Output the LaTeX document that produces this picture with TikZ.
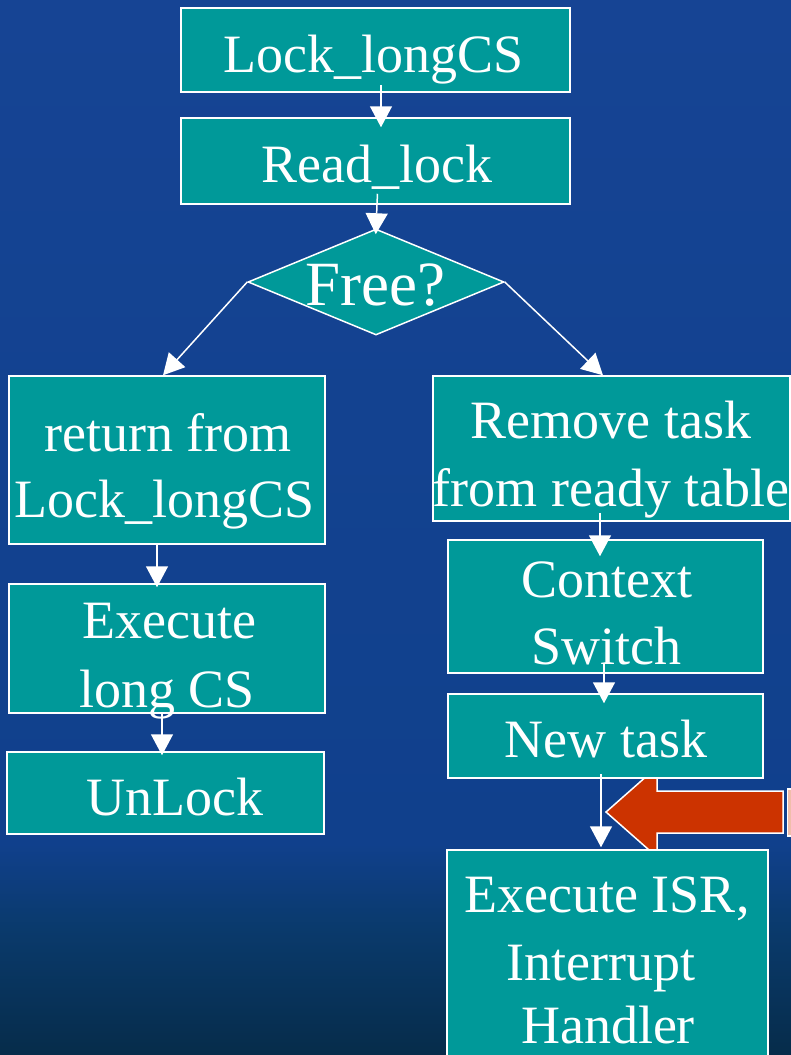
\documentclass[tikz,border=0pt]{standalone}
\usepackage{fontspec}
\setmainfont{Liberation Serif}
\usetikzlibrary{shapes.geometric,arrows.meta}
\definecolor{boxteal}{RGB}{0,153,153}
\definecolor{arrred}{RGB}{204,51,0}
\definecolor{bgT}{RGB}{22,68,148}
\definecolor{bgT2}{RGB}{16,64,140}
\definecolor{bgM}{RGB}{10,58,108}
\definecolor{bgB}{RGB}{6,44,74}
\definecolor{sliver}{RGB}{240,190,170}
\pgfdeclareverticalshading{bgsh}{100bp}{color(0bp)=(bgB); color(25bp)=(bgB); color(31bp)=(bgM); color(35bp)=(bgT2); color(75bp)=(bgT); color(100bp)=(bgT)}
\begin{document}
\begin{tikzpicture}[x=1pt,y=-1pt,
  box/.style={draw=white, line width=1.5pt, fill=boxteal, rectangle, inner sep=0pt},
  lbl/.style={text=white, font=\fontsize{54}{67}\selectfont, inner sep=0pt, anchor=base},
  conn/.style={draw=white, line width=1.5pt, -{Triangle[width=22pt,length=21pt]}}]
\useasboundingbox (0,0) rectangle (791,1055);
\shade[shading=bgsh] (0,0) rectangle (791,1055);

% red block arrow and partially visible box at the right edge
\draw[white, line width=1.5pt, fill=arrred] (606,812) -- (657,767) -- (657,791) -- (783,791) -- (783,833) -- (657,833) -- (657,857) -- cycle;
\draw[white, line width=1.2pt, fill=sliver] (787.5,789) rectangle (805,836);

% boxes
\node[box, minimum width=389pt, minimum height=84pt] (lock) at (375.5,50) {};
\node[box, minimum width=389pt, minimum height=86pt] (read) at (375.5,161) {};
\node[diamond, draw=white, line width=1.5pt, fill=boxteal, minimum width=256pt, minimum height=106pt, inner sep=0pt] (free) at (376,282) {};
\node[box, minimum width=316pt, minimum height=168pt] (ret) at (167,460) {};
\node[box, minimum width=357pt, minimum height=145pt] (rem) at (611.5,448.5) {};
\node[box, minimum width=315pt, minimum height=133pt] (ctx) at (605.5,606.5) {};
\node[box, minimum width=316pt, minimum height=129pt] (exe) at (167,648.5) {};
\node[box, minimum width=317pt, minimum height=82pt] (unl) at (165.5,793) {};
\node[box, minimum width=315pt, minimum height=84pt] (newt) at (605.5,736) {};
\node[box, minimum width=321pt, minimum height=220pt] (isr) at (607.5,960) {};

% labels
\node[lbl] (lockT) at (373.5,72) {Lock\_longCS};
\node[lbl] (readT) at (377,182) {Read\_lock};
\node[lbl, font=\fontsize{63}{70}\selectfont] (freeT) at (375.5,305) {Free?};
\node[lbl] (retT1) at (168,451) {return from};
\node[lbl] (retT2) at (165,517) {Lock\_longCS};
\node[lbl] (remT1) at (611,438) {Remove task};
\node[lbl] (remT2) at (611,506) {from ready table};
\node[lbl] (ctxT1) at (606.5,597) {Context};
\node[lbl] (ctxT2) at (606.5,664) {Switch};
\node[lbl] (exeT1) at (169,638) {Execute};
\node[lbl] (exeT2) at (167,707) {long CS};
\node[lbl] (unlT) at (175,815) {UnLock};
\node[lbl] (newT) at (606,757) {New task};
\node[lbl] (isrT1) at (607,912) {Execute ISR,};
\node[lbl] (isrT2) at (601,980) {Interrupt};
\node[lbl] (isrT3) at (608,1043) {Handler};

% connectors
\draw[conn, shorten <=-8pt, shorten >=-10pt] ([xshift=5.5pt]lock.south) -- ([xshift=5.5pt]read.north);
\draw[conn, shorten <=-11pt, shorten >=-6pt] ([xshift=1.5pt]read.south) -- (free.north);
\draw[conn] (free.west) -- ([xshift=-4pt]ret.north);
\draw[conn] (free.east) -- ([xshift=-8.5pt]rem.north);
\draw[conn, shorten >=-4pt] ([xshift=-10pt]ret.south) -- ([xshift=-10pt]exe.north);
\draw[conn, shorten >=-4pt] ([xshift=-5pt]exe.south) -- ([xshift=-3.5pt]unl.north);
\draw[conn, shorten <=-9pt, shorten >=-17pt] ([xshift=-11.5pt]rem.south) -- ([xshift=-5.5pt]ctx.north);
\draw[conn, shorten <=-10pt, shorten >=-10pt] ([xshift=-1.5pt]ctx.south) -- ([xshift=-1.5pt]newt.north);
\draw[conn, shorten <=-5pt, shorten >=2pt] ([xshift=-4.5pt]newt.south) -- ([xshift=-6.5pt]isr.north);
\end{tikzpicture}
\end{document}
